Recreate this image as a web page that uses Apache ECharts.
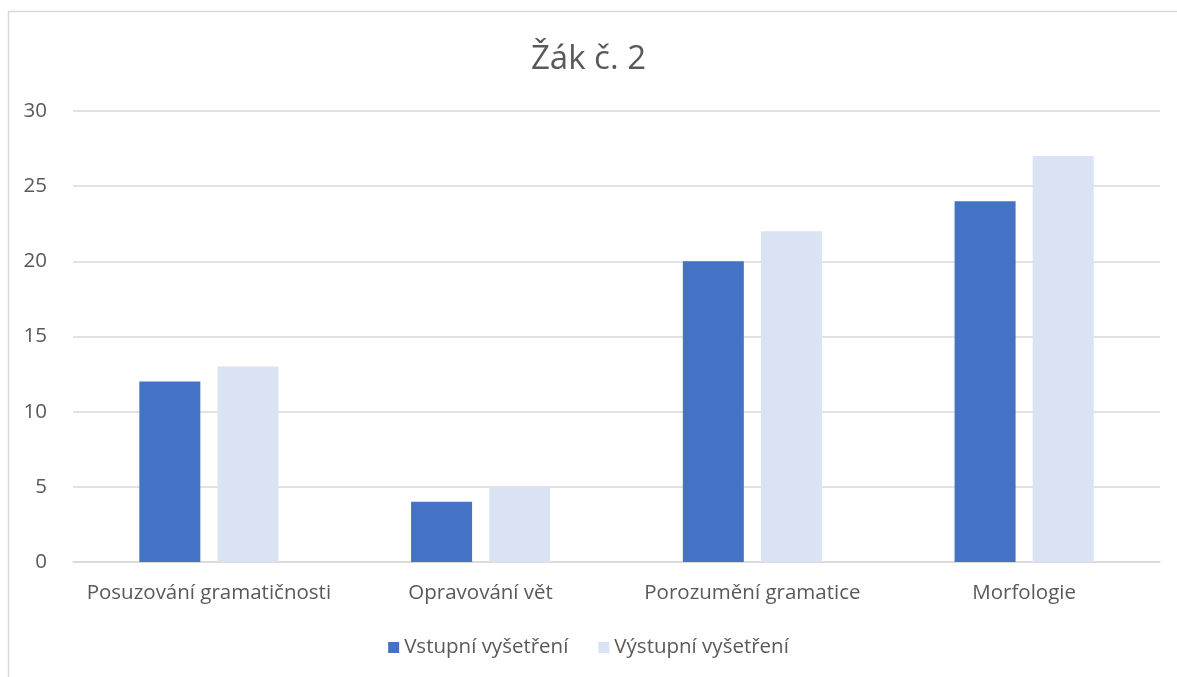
<!DOCTYPE html>
<html>
<head>
<meta charset="utf-8">
<script src="https://cdn.jsdelivr.net/npm/echarts@6/dist/echarts.min.js"></script>
<style>
  html, body { margin: 0; padding: 0; background: #fff; }
  #chart { width: 1177px; height: 677px; }
</style>
</head>
<body>
<div id="chart"></div>
<script>
const categories = ['Posuzování gramatičnosti', 'Opravování vět', 'Porozumění gramatice', 'Morfologie']
const seriesNames = ['Vstupní vyšetření', 'Výstupní vyšetření']
const vstupni = [12, 4, 20, 24]
const vystupni = [13, 5, 22, 27]

const chart = echarts.init(document.getElementById('chart'))
const font = '"Open Sans", Lato, sans-serif'

const option = {
  animation: false,
  textStyle: { fontFamily: font },
  title: {
    text: 'Žák č. 2',
    left: 'center',
    top: 38,
    textStyle: { fontFamily: font, fontSize: 33, fontWeight: 'normal', color: '#595959' }
  },
  graphic: [
    {
      type: 'rect',
      shape: { x: 8.5, y: 11.5, width: 1300, height: 800 },
      style: { fill: 'none', stroke: '#d9d9d9', lineWidth: 1.5 },
      silent: true
    }
  ],
  legend: {
    bottom: 14,
    left: 'center',
    itemWidth: 11,
    itemHeight: 11,
    itemGap: 30,
    icon: 'rect',
    textStyle: { fontFamily: font, fontSize: 20.5, color: '#595959' },
    data: seriesNames
  },
  grid: {
    left: 73,
    right: 17,
    top: 111,
    bottom: 115,
    containLabel: false
  },
  xAxis: {
    type: 'category',
    data: categories,
    axisLine: { lineStyle: { color: '#d9d9d9', width: 1.5 } },
    axisTick: { show: false },
    axisLabel: { interval: 0, fontFamily: font, fontSize: 20.5, color: '#595959', margin: 21 }
  },
  yAxis: {
    type: 'value',
    min: 0,
    max: 30,
    interval: 5,
    axisLine: { show: false },
    axisTick: { show: false },
    splitLine: { lineStyle: { color: '#d9d9d9', width: 1.5 } },
    axisLabel: { fontFamily: font, fontSize: 20.5, color: '#595959', margin: 26 }
  },
  series: [
    {
      name: seriesNames[0],
      type: 'bar',
      data: vstupni,
      barWidth: 61,
      barGap: '28%',
      itemStyle: { color: '#4472c4' }
    },
    {
      name: seriesNames[1],
      type: 'bar',
      data: vystupni,
      barWidth: 61,
      itemStyle: { color: '#dae3f3' }
    }
  ]
}

chart.setOption(option)
</script>
</body>
</html>
